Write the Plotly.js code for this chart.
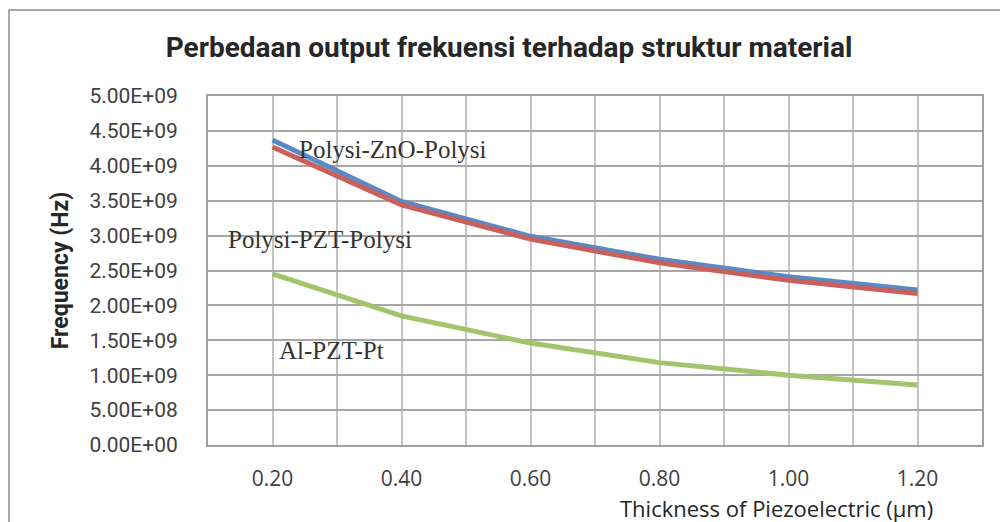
<!DOCTYPE html>
<html>
<head>
<meta charset="utf-8">
<script src="https://cdn.plot.ly/plotly-3.0.1.min.js"></script>
<style>
html,body{margin:0;padding:0;background:#fff;}
#chart{width:1000px;height:522px;}
</style>
</head>
<body>
<div id="chart"></div>
<script>
// Data
var thickness = [0.20, 0.40, 0.60, 0.80, 1.00, 1.20];
var polysiZnO = [4.37e9, 3.49e9, 2.99e9, 2.66e9, 2.41e9, 2.22e9];
var polysiPZT = [4.27e9, 3.44e9, 2.95e9, 2.61e9, 2.36e9, 2.17e9];
var alPZTPt   = [2.45e9, 1.85e9, 1.46e9, 1.18e9, 1.00e9, 0.86e9];
var seriesNames = ['Polysi-ZnO-Polysi', 'Polysi-PZT-Polysi', 'Al-PZT-Pt'];
var yTickVals = [0, 5e8, 1e9, 1.5e9, 2e9, 2.5e9, 3e9, 3.5e9, 4e9, 4.5e9, 5e9];
var yTickText = ['0.00E+00','5.00E+08','1.00E+09','1.50E+09','2.00E+09','2.50E+09','3.00E+09','3.50E+09','4.00E+09','4.50E+09','5.00E+09'];

var narrow = 'Roboto, "Liberation Sans", sans-serif';
var serif = '"Liberation Serif", "Times New Roman", serif';
var uiFont = '"Open Sans", "Noto Sans", sans-serif';

var traces = [
  {x: thickness, y: polysiZnO, name: seriesNames[0], mode: 'lines', line: {color: '#5A8AC6', width: 5}},
  {x: thickness, y: polysiPZT, name: seriesNames[1], mode: 'lines', line: {color: '#C8605C', width: 5}},
  {x: thickness, y: alPZTPt,   name: seriesNames[2], mode: 'lines', line: {color: '#A3C46C', width: 5}}
];

var layout = {
  width: 1000, height: 522,
  margin: {l: 208, r: 18, t: 96, b: 77},
  paper_bgcolor: '#ffffff', plot_bgcolor: '#ffffff',
  showlegend: false,
  title: {
    text: '<b>Perbedaan output frekuensi terhadap struktur material</b>',
    font: {family: narrow, size: 28, color: '#262626'},
    x: 0.509, xref: 'container', xanchor: 'center',
    y: 0.91, yref: 'container', yanchor: 'middle'
  },
  xaxis: {
    range: [0.1, 1.3],
    tick0: 0.2, dtick: 0.2, tickformat: '.2f',
    showgrid: true, gridcolor: '#c4c4c4', gridwidth: 2,
    minor: {dtick: 0.1, tick0: 0.1, showgrid: true, gridcolor: '#c4c4c4', gridwidth: 2},
    showline: true, mirror: true, linecolor: '#a0a0a0', linewidth: 2,
    zeroline: false, ticks: '',
    ticklabelstandoff: 14,
    tickfont: {family: uiFont, size: 21, color: '#404040'}
  },
  yaxis: {
    range: [0, 5e9],
    tickvals: yTickVals, ticktext: yTickText,
    showgrid: true, gridcolor: '#a6a6a6', gridwidth: 2,
    showline: true, mirror: true, linecolor: '#a0a0a0', linewidth: 2,
    zeroline: false, ticks: '',
    ticklabelstandoff: 24,
    tickfont: {family: narrow, size: 21, color: '#404040'},
    title: {text: '<b>Frequency (Hz)</b>', font: {family: narrow, size: 23, color: '#262626'}, standoff: 14}
  },
  annotations: [
    {text: seriesNames[0], x: 0.238, y: 4.23e9, xref: 'x', yref: 'y', xanchor: 'left', yanchor: 'middle', showarrow: false,
     font: {family: serif, size: 25, color: '#333333'}},
    {text: seriesNames[1], x: 0.128, y: 2.95e9, xref: 'x', yref: 'y', xanchor: 'left', yanchor: 'middle', showarrow: false,
     font: {family: serif, size: 25, color: '#333333'}},
    {text: seriesNames[2], x: 0.207, y: 1.35e9, xref: 'x', yref: 'y', xanchor: 'left', yanchor: 'middle', showarrow: false,
     font: {family: serif, size: 25, color: '#333333'}},
    {text: 'Thickness of Piezoelectric (µm)', x: 0.735, y: -0.1805, xref: 'paper', yref: 'paper', xanchor: 'center', yanchor: 'middle', showarrow: false,
     font: {family: uiFont, size: 22, color: '#262626'}}
  ],
  shapes: [
    {type: 'path', xref: 'paper', yref: 'paper',
     path: 'M -0.2571 -0.25 L -0.2571 1.2464 L 1.05 1.2464',
     line: {color: '#8c8c8c', width: 1.5}}
  ]
};

Plotly.newPlot('chart', traces, layout, {displayModeBar: false, staticPlot: true});
</script>
</body>
</html>
